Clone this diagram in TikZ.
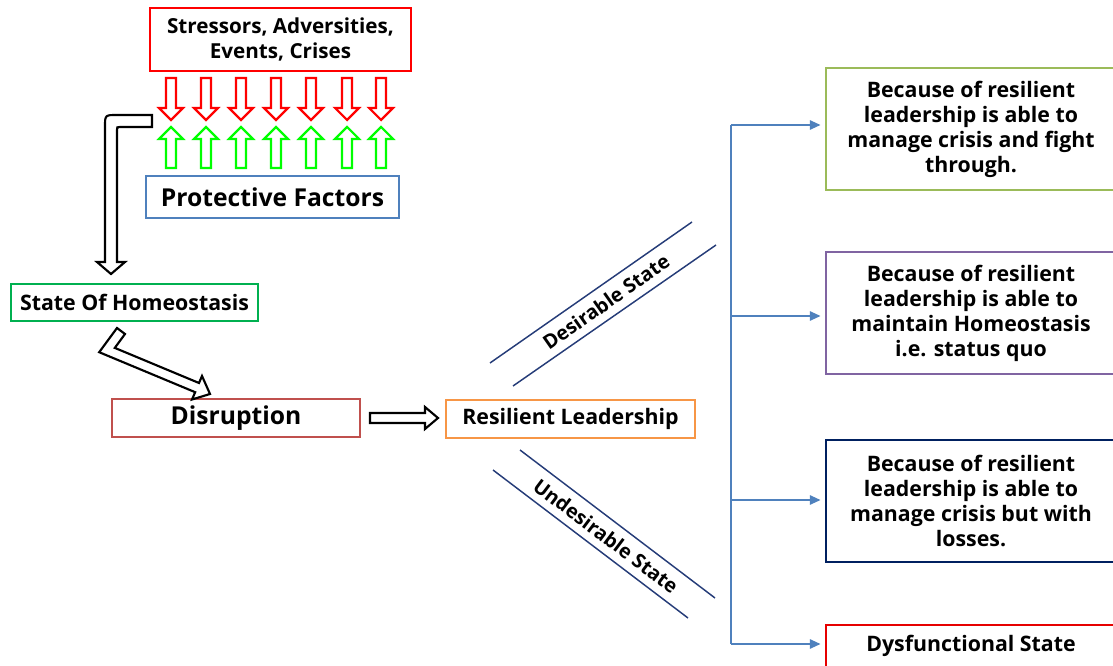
\documentclass[tikz,border=0pt]{standalone}
\usepackage{fontspec}
\setmainfont{Open Sans}
\usetikzlibrary{arrows.meta}

\definecolor{stressred}{RGB}{255,0,0}
\definecolor{protgreen}{RGB}{0,255,0}
\definecolor{protblue}{RGB}{79,129,189}
\definecolor{homeogreen}{RGB}{0,176,80}
\definecolor{disruptred}{RGB}{192,80,77}
\definecolor{leadorange}{RGB}{247,150,70}
\definecolor{fightgreen}{RGB}{155,187,89}
\definecolor{quopurple}{RGB}{128,100,162}
\definecolor{lossnavy}{RGB}{0,32,96}
\definecolor{dysred}{RGB}{230,0,0}
\definecolor{statenavy}{RGB}{37,60,120}

\tikzset{
  box/.style={draw, line width=2.2pt, fill=white, align=center, inner sep=0pt,
    font=\bfseries\fontsize{15.5}{18.75}\selectfont},
  outbox/.style={box, minimum width=217.5pt, minimum height=91.5pt,
    font=\bfseries\fontsize{16}{18.75}\selectfont},
  stressarrow/.style={draw=stressred, line width=1.6pt, line join=miter},
  protectarrow/.style={draw=protgreen, line width=1.6pt, line join=miter},
  blockarrow/.style={draw=black, line width=1.6pt, fill=white, line join=miter},
  stateline/.style={draw=statenavy, line width=1.1pt},
  statelabel/.style={font=\bfseries\fontsize{14.8}{16}\selectfont, inner sep=0pt},
  flow/.style={draw=protblue, line width=1.3pt, -{Triangle[length=8pt,width=7pt]}, shorten >=3pt}
}

\begin{document}
\begin{tikzpicture}[x=0.75pt,y=0.75pt,yscale=-1,xscale=1]
\useasboundingbox (0,0) rectangle (1113,666);
\clip (0,0) rectangle (1113,666);

% left column
\node[box, draw=stressred, minimum width=195.75pt, minimum height=47.25pt] (stressors) at (280.5,39.5) {Stressors, Adversities,\\Events, Crises};
\node[box, draw=protblue, minimum width=189.75pt, minimum height=31.5pt, font=\bfseries\fontsize{18.5}{20}\selectfont] (protective) at (272.5,197) {Protective Factors};
\node[box, draw=homeogreen, minimum width=185.25pt, minimum height=27.75pt, font=\bfseries\fontsize{16}{18}\selectfont] (homeostasis) at (134.5,302.5) {State Of Homeostasis};
\node[box, draw=disruptred, minimum width=186pt, minimum height=28.5pt, font=\bfseries\fontsize{18.5}{20}\selectfont] (disruption) at (236,418) {Disruption};
\node[box, draw=leadorange, minimum width=186.75pt, minimum height=28.5pt, font=\bfseries\fontsize{16}{18}\selectfont] (leadership) at (570.5,419) {Resilient Leadership};

% stressors against protective factors
\foreach \x in {171,206,241,276,311,347,381} {
  \draw[stressarrow] (\x-5,78) -- (\x+5,78) -- (\x+5,108) -- (\x+12,108) -- (\x,120) -- (\x-12,108) -- (\x-5,108) -- cycle;
  \draw[protectarrow] (\x-5,168) -- (\x+5,168) -- (\x+5,139) -- (\x+12,139) -- (\x,127) -- (\x-12,139) -- (\x-5,139) -- cycle;
}

% hollow block arrows
\draw[blockarrow] (152,115) -- (117,115) .. controls (105,115) .. (105,127) -- (105,262) -- (97,262) -- (111,274) -- (125,262) -- (117,262) -- (117,130) .. controls (117,127) .. (120,127) -- (152,127) -- cycle;
\draw[blockarrow] (117,328) -- (99.2,352.2) -- (195.2,392.2) -- (192,399.5) -- (210,394) -- (202,376) -- (199,383) -- (114.8,347.9) -- (125,334) -- cycle;
\draw[blockarrow] (370,413) -- (425,413) -- (425,407) -- (438,418) -- (425,429) -- (425,423) -- (370,423) -- cycle;

% desirable / undesirable branches
\draw[stateline] (490,363) -- (692,222);
\draw[stateline] (513,386) -- (716,245);
\node[statelabel, rotate=35] (desirable) at (606,302) {Desirable State};
\draw[stateline] (520,450) -- (715,598);
\draw[stateline] (493,470) -- (688,618);
\node[statelabel, rotate=-37] (undesirable) at (606,536) {Undesirable State};

% outcomes
\node[outbox, draw=fightgreen] (fight) at (971,129) {Because of resilient\\leadership is able to\\manage crisis and fight\\through.};
\node[outbox, draw=quopurple] (statusquo) at (971,313) {Because of resilient\\leadership is able to\\maintain Homeostasis\\i.e. status quo};
\node[outbox, draw=lossnavy] (losses) at (971,501) {Because of resilient\\leadership is able to\\manage crisis but with\\losses.};
\node[box, draw=dysred, minimum width=217.5pt, minimum height=31.5pt, font=\bfseries\fontsize{16}{18}\selectfont] (dysfunctional) at (971,646) {Dysfunctional State};

\coordinate (top) at (731,125);
\coordinate (mid1) at (731,316);
\coordinate (mid2) at (731,500);
\coordinate (bottom) at (731,644);
\draw[draw=protblue, line width=1.3pt] (top) -- (bottom);
\draw[flow] (top) -- (top -| fight.west);
\draw[flow] (mid1) -- (mid1 -| statusquo.west);
\draw[flow] (mid2) -- (mid2 -| losses.west);
\draw[flow] (bottom) -- (bottom -| dysfunctional.west);

\end{tikzpicture}
\end{document}
